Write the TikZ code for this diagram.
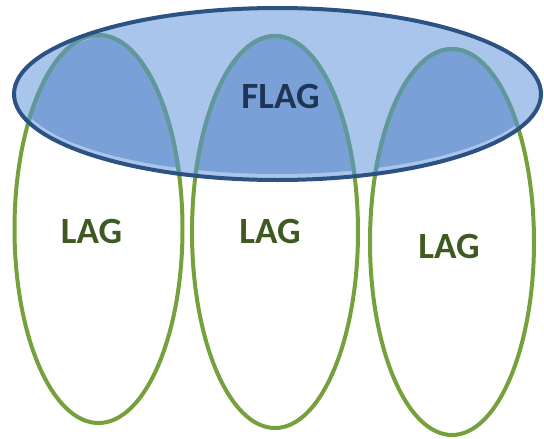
\documentclass[tikz,border=0pt]{standalone}
\usepackage{fontspec}
\setmainfont{Carlito}
\usetikzlibrary{shapes.geometric}
\definecolor{lagline}{HTML}{76A03C}
\definecolor{lagteal}{HTML}{5F98A0}
\definecolor{lagtext}{HTML}{3E5A22}
\definecolor{flagfill}{HTML}{A9C5EB}
\definecolor{flagdark}{HTML}{7AA1D7}
\definecolor{flagline}{HTML}{2C5183}
\definecolor{flagtext}{HTML}{1E3558}
\tikzset{
  lagring/.style={line width=4pt, draw=lagline},
  lagringin/.style={line width=4pt, draw=lagteal},
  lagtxt/.style={font=\fontsize{37}{37}\selectfont\bfseries, text=lagtext, inner sep=0pt},
  flagtxt/.style={font=\fontsize{37}{37}\selectfont\bfseries, text=flagtext, inner sep=0pt},
}
\newcommand{\lagA}{(98.5,229) ellipse [x radius=84, y radius=194]}
\newcommand{\lagB}{(275,232) ellipse [x radius=83, y radius=196]}
\newcommand{\lagC}{(452,242) ellipse [x radius=82, y radius=193]}
\newcommand{\flagE}{(277.5,94) ellipse [x radius=263.5, y radius=86]}
\newcommand{\flagIn}{(277.5,94) ellipse [x radius=258, y radius=80]}
\begin{document}
\begin{tikzpicture}[x=1pt,y=-1pt]
\useasboundingbox (0,0) rectangle (544,439);
% blue ellipse fill
\fill[flagfill] \flagE;
% darker overlaps
\begin{scope}
  \clip \flagIn;
  \fill[flagdark] \lagA;
  \fill[flagdark] \lagB;
  \fill[flagdark] \lagC;
\end{scope}
% green rings
\draw[lagring] \lagA;
\draw[lagring] \lagB;
\draw[lagring] \lagC;
\begin{scope}
  \clip \flagE;
  \draw[lagringin] \lagA;
  \draw[lagringin] \lagB;
  \draw[lagringin] \lagC;
\end{scope}
% blue outline
\draw[line width=4pt, flagline] \flagE;
% labels
\node[flagtxt] (flag) at (280.5,96) {FLAG};
\node[lagtxt] (lag1) at (91.5,231.5) {LAG};
\node[lagtxt] (lag2) at (270,231.5) {LAG};
\node[lagtxt] (lag3) at (449,246.5) {LAG};
\end{tikzpicture}
\end{document}
